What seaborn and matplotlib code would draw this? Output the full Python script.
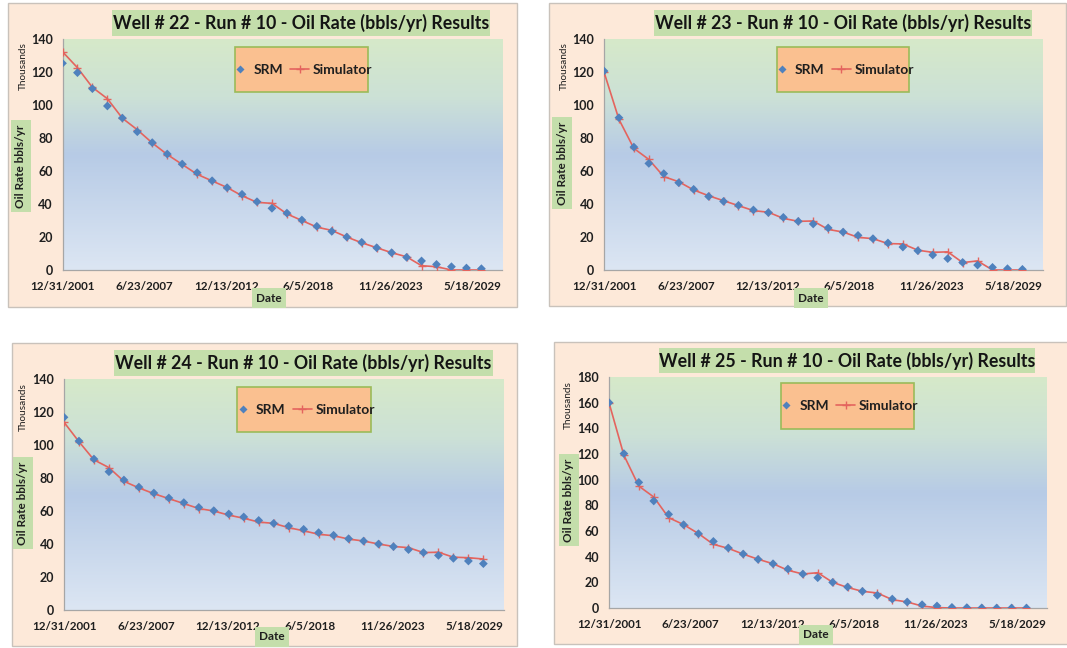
import matplotlib
matplotlib.use("Agg")
import matplotlib.pyplot as plt
import numpy as np
import pandas as pd
import seaborn as sns
from matplotlib.colors import LinearSegmentedColormap
from matplotlib.lines import Line2D
from matplotlib.patches import Rectangle

# ---------------------------------------------------------------- data
# yearly rates, thousands of bbls/yr, one value per Dec-31 from 2001 to 2029
dates = [pd.Timestamp(y, 12, 31) for y in range(2001, 2030)]

well22_srm = [125.3, 119.6, 109.9, 99.4, 92.1, 83.8, 77.2, 70.3, 64.2, 59.0,
              54.1, 49.9, 45.9, 41.4, 37.4, 34.5, 30.3, 26.5, 23.4, 20.0,
              16.8, 13.5, 10.5, 7.7, 5.5, 3.4, 2.0, 1.2, 0.8]
well22_sim = [132.3, 122.6, 110.7, 103.8, 92.0, 85.0, 77.0, 70.0, 64.0, 58.0,
              54.0, 50.0, 45.0, 41.0, 40.4, 34.0, 30.0, 26.0, 24.0, 20.0,
              16.5, 13.5, 10.5, 8.0, 2.6, 2.0, 0.0, 0.0, 0.0]

well23_srm = [120.6, 92.3, 74.5, 64.6, 58.4, 52.9, 48.9, 44.6, 41.6, 39.2,
              36.4, 34.8, 31.9, 29.5, 27.9, 25.5, 23.0, 21.0, 19.0, 16.4,
              13.9, 11.7, 9.1, 6.9, 4.6, 3.0, 1.6, 0.8, 0.4]
well23_sim = [120.0, 91.3, 73.7, 67.0, 56.6, 53.5, 48.5, 45.0, 42.0, 39.0,
              36.0, 35.0, 31.3, 29.5, 29.7, 24.6, 23.0, 19.8, 19.0, 16.0,
              15.8, 12.0, 10.7, 11.0, 4.5, 5.5, 0.0, 0.0, 0.0]

well24_srm = [116.8, 102.4, 91.5, 83.8, 78.8, 74.5, 70.9, 67.9, 65.1, 62.2,
              60.2, 58.2, 56.4, 54.3, 52.5, 50.9, 48.9, 46.9, 45.3, 43.2,
              41.8, 40.0, 38.4, 36.6, 34.8, 33.1, 31.3, 29.7, 28.1]
well24_sim = [113.8, 102.0, 91.0, 86.3, 78.0, 74.0, 70.5, 67.5, 64.5, 61.5,
              60.0, 57.5, 55.6, 53.3, 52.5, 49.9, 48.0, 45.9, 45.0, 43.0,
              41.8, 40.0, 38.5, 37.8, 34.8, 35.0, 32.0, 31.7, 30.9]

well25_srm = [160.0, 120.3, 97.9, 83.4, 73.0, 64.9, 57.9, 51.9, 46.8, 42.1,
              37.9, 34.5, 30.4, 26.5, 23.6, 20.0, 16.4, 13.0, 9.9, 7.0,
              4.7, 2.6, 1.6, 0.5, 0.3, 0.1, 0.0, 0.0, 0.0]
well25_sim = [160.0, 119.0, 95.0, 86.5, 70.4, 65.0, 58.0, 49.6, 46.5, 42.0,
              38.0, 34.5, 29.4, 26.5, 27.5, 20.0, 16.0, 13.0, 11.7, 6.5,
              4.7, 1.5, 0.3, 0.0, 0.0, 0.0, 0.0, 0.0, 0.0]

wells = ["22", "23", "24", "25"]
srm_series = [well22_srm, well23_srm, well24_srm, well25_srm]
sim_series = [well22_sim, well23_sim, well24_sim, well25_sim]
y_max = [140, 140, 140, 180]

# date axis: ticks every 2000 days from the first point
axis_start = pd.Timestamp(2001, 12, 31)
tick_dates = [axis_start + pd.Timedelta(days=2000 * i) for i in range(6)]
tick_labels = [f"{d.month}/{d.day}/{d.year}" for d in tick_dates]
axis_end = axis_start + pd.Timedelta(days=10730)

# ---------------------------------------------------------------- style
sns.set_theme(style="white")
plt.rcParams["font.family"] = ["Lato", "DejaVu Sans"]

PANEL_BG = "#fde9d9"
PANEL_EDGE = "#c9c2bb"
TITLE_BG = "#c4deab"
LABEL_BG = "#c4deab"
LEGEND_BG = "#fac090"
LEGEND_EDGE = "#9bbb59"
SRM_COLOR = "#4f81bd"
SIM_COLOR = "#e4645e"
AXIS_GRAY = "#a6a6a6"
TEXT = "#1f1f1f"

plot_cmap = LinearSegmentedColormap.from_list(
    "plotarea", [(0.0, "#d6e9c9"), (0.25, "#cce1d6"), (0.5, "#b7cbe6"),
                 (1.0, "#dce6f3")])

W, H = 1067, 648
fig = plt.figure(figsize=(W / 100, H / 100), dpi=100)
fig.patch.set_facecolor("white")


def fx(x):
    return x / W


def fy(y):
    return 1 - y / H


# pixel layout of each chart block (left, top, right, bottom)
layout = [
    dict(box=(8, 3, 517, 307), plot=(62.5, 39, 502, 270), title=(112, 10, 490, 36),
         legend=(235, 47, 368, 92), ylab=(21, 166), thou=(23, 66), xlab=(269, 298)),
    dict(box=(549, 3, 1066, 306), plot=(604, 39, 1043, 270), title=(654, 10, 1032, 36),
         legend=(777, 47, 909, 92), ylab=(562, 163), thou=(564, 66), xlab=(811, 298)),
    dict(box=(12, 343, 517, 646), plot=(64, 379, 504, 610), title=(114, 350, 493, 376),
         legend=(237, 387, 371, 432), ylab=(23, 503), thou=(23, 407), xlab=(272, 637)),
    dict(box=(554, 342, 1069, 644), plot=(609, 377, 1047, 608), title=(659, 348, 1035, 373),
         legend=(781, 383, 914, 429), ylab=(569, 500), thou=(568, 405), xlab=(816, 635)),
]

gradient = np.linspace(0, 1, 256).reshape(-1, 1)

for well, srm, sim, ymax, lay in zip(wells, srm_series, sim_series, y_max, layout):
    bx0, by0, bx1, by1 = lay["box"]
    fig.add_artist(Rectangle((fx(bx0), fy(by1)), fx(bx1 - bx0), (by1 - by0) / H,
                             transform=fig.transFigure, facecolor=PANEL_BG,
                             edgecolor=PANEL_EDGE, lw=1.0, zorder=-2))

    # title block
    tx0, ty0, tx1, ty1 = lay["title"]
    fig.add_artist(Rectangle((fx(tx0), fy(ty1)), fx(tx1 - tx0), (ty1 - ty0) / H,
                             transform=fig.transFigure, facecolor=TITLE_BG,
                             edgecolor="none", zorder=-1))
    fig.text(fx((tx0 + tx1) / 2), fy((ty0 + ty1) / 2),
             f"Well # {well} - Run # 10 - Oil Rate (bbls/yr) Results",
             ha="center", va="center", fontsize=12.8, fontweight="bold",
             color="#141414")

    px0, py0, px1, py1 = lay["plot"]
    ax = fig.add_axes([fx(px0), fy(py1), fx(px1 - px0), (py1 - py0) / H])

    df = pd.DataFrame({"Date": dates, "SRM": srm, "Simulator": sim})
    sns.lineplot(data=df, x="Date", y="Simulator", ax=ax, color=SIM_COLOR,
                 lw=1.2, marker="+", markersize=6, markeredgewidth=1.0,
                 markeredgecolor=SIM_COLOR, zorder=3, legend=False)
    sns.scatterplot(data=df, x="Date", y="SRM", ax=ax, color=SRM_COLOR,
                    marker="D", s=20, edgecolor="none", zorder=4, legend=False)

    ax.imshow(gradient, extent=(0, 1, 0, 1), transform=ax.transAxes,
              aspect="auto", cmap=plot_cmap, zorder=0, interpolation="bilinear")

    ax.set_xlim(axis_start, axis_end)
    ax.set_ylim(0, ymax)
    ax.set_xticks(tick_dates)
    ax.set_xticklabels(tick_labels)
    ax.set_yticks(np.arange(0, ymax + 1, 20))
    ax.tick_params(axis="both", direction="out", length=4, width=0.8,
                   color=AXIS_GRAY, labelcolor=TEXT, pad=3)
    ax.tick_params(axis="y", labelsize=9)
    ax.tick_params(axis="x", labelsize=8.4, pad=4)
    for lbl in ax.get_xticklabels() + ax.get_yticklabels():
        lbl.set_fontweight("bold")
    for side in ("top", "right"):
        ax.spines[side].set_visible(False)
    for side in ("left", "bottom"):
        ax.spines[side].set_color(AXIS_GRAY)
        ax.spines[side].set_linewidth(0.9)
    ax.grid(False)

    # axis titles
    ax.set_xlabel("Date", fontsize=8.5, fontweight="bold", color=TEXT,
                  bbox=dict(boxstyle="square,pad=0.35", fc=LABEL_BG, ec="none"))
    ax.xaxis.set_label_coords((lay["xlab"][0] - px0) / (px1 - px0),
                              (py1 - lay["xlab"][1]) / (py1 - py0))
    ax.xaxis.label.set_va("center")
    ax.set_ylabel("Oil Rate bbls/yr", fontsize=8.5, fontweight="bold", color=TEXT,
                  bbox=dict(boxstyle="square,pad=0.35", fc=LABEL_BG, ec="none"))
    ax.yaxis.set_label_coords((lay["ylab"][0] - px0) / (px1 - px0),
                              (py1 - lay["ylab"][1]) / (py1 - py0))
    ax.yaxis.label.set_va("center")
    fig.text(fx(lay["thou"][0]), fy(lay["thou"][1]), "Thousands", rotation=90,
             ha="center", va="center", fontsize=7.2, color=TEXT)

    # legend block
    lx0, ly0, lx1, ly1 = lay["legend"]
    ax.add_patch(Rectangle((fx(lx0), fy(ly1)), fx(lx1 - lx0), (ly1 - ly0) / H,
                           transform=fig.transFigure, facecolor=LEGEND_BG,
                           edgecolor=LEGEND_EDGE, lw=1.2, zorder=5, clip_on=False))
    handles = [
        Line2D([], [], ls="none", marker="D", markersize=3.8, color=SRM_COLOR,
               markeredgecolor="none"),
        Line2D([], [], color=SIM_COLOR, lw=1.2, marker="+", markersize=6,
               markeredgewidth=1.0),
    ]
    leg = ax.legend(handles, ["SRM", "Simulator"], loc="center",
                    bbox_to_anchor=(fx((lx0 + lx1) / 2), fy((ly0 + ly1) / 2)),
                    bbox_transform=fig.transFigure, ncol=2, frameon=False,
                    handlelength=1.4, handletextpad=0.25, columnspacing=0.5,
                    prop=dict(weight="bold", size=10))
    leg.set_zorder(6)
    for t in leg.get_texts():
        t.set_color(TEXT)

fig.savefig("out.png", dpi=100, facecolor="white")
